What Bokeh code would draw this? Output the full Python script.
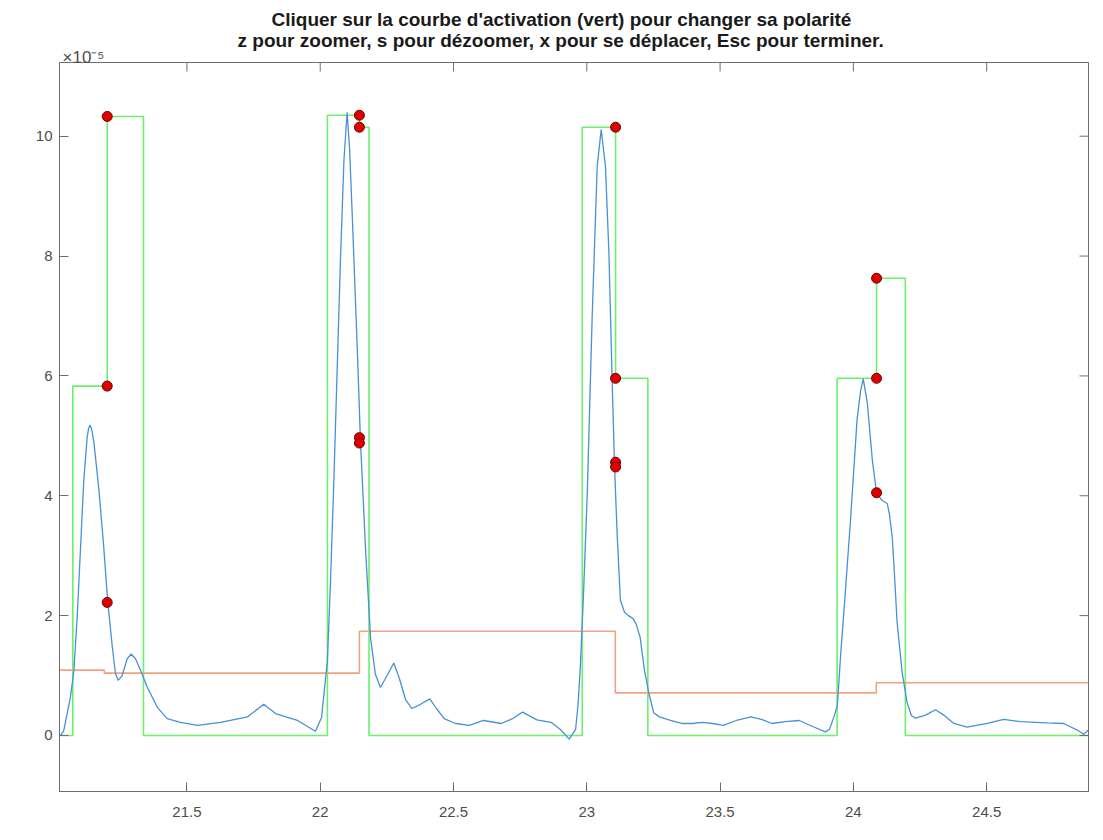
import math
from bokeh.plotting import figure
from bokeh.models import Range1d, FixedTicker, Title
from bokeh.embed import file_html
from bokeh.resources import INLINE

# ---------------- data ----------------
title_line1 = "Cliquer sur la courbe d'activation (vert) pour changer sa polarité"
title_line2 = "z pour zoomer, s pour dézoomer, x pour se déplacer, Esc pour terminer."
exponent_label = "×10⁻⁵"

x_ticks = [21.5, 22, 22.5, 23, 23.5, 24, 24.5]
x_tick_labels = ["21.5", "22", "22.5", "23", "23.5", "24", "24.5"]
y_ticks = [0, 2, 4, 6, 8, 10]
y_tick_labels = ["0", "2", "4", "6", "8", "10"]

x_start, x_end = 21.022, 24.882
y_start, y_end = -0.935, 11.23

# blue signal (values in units of 1e-5)
signal_t = [21.026, 21.038, 21.063, 21.076, 21.089, 21.101, 21.113, 21.126, 21.131, 21.136,
            21.142, 21.151, 21.170, 21.188, 21.203, 21.220, 21.232, 21.242, 21.257, 21.276,
            21.291, 21.307, 21.326, 21.351, 21.389, 21.426, 21.476, 21.540, 21.626, 21.727,
            21.788, 21.835, 21.915, 21.982, 22.005, 22.027, 22.038, 22.051, 22.076, 22.089,
            22.101, 22.110, 22.120, 22.139, 22.151, 22.170, 22.189, 22.207, 22.226, 22.251,
            22.276, 22.297, 22.320, 22.344, 22.376, 22.411, 22.436, 22.465, 22.507, 22.559,
            22.612, 22.679, 22.721, 22.759, 22.813, 22.866, 22.901, 22.934, 22.958, 22.967,
            22.976, 22.988, 23.002, 23.020, 23.039, 23.054, 23.070, 23.083, 23.095, 23.104,
            23.114, 23.126, 23.141, 23.156, 23.174, 23.186, 23.200, 23.216, 23.233, 23.251,
            23.272, 23.314, 23.356, 23.396, 23.434, 23.471, 23.512, 23.561, 23.616, 23.655,
            23.694, 23.745, 23.797, 23.847, 23.895, 23.910, 23.927, 23.940, 23.952, 23.970,
            23.989, 24.014, 24.027, 24.037, 24.052, 24.071, 24.087, 24.108, 24.127, 24.135,
            24.146, 24.154, 24.164, 24.183, 24.202, 24.218, 24.233, 24.271, 24.308, 24.339,
            24.377, 24.427, 24.502, 24.564, 24.627, 24.727, 24.789, 24.840, 24.864, 24.881]
signal_v = [0.00, 0.08, 0.64, 1.08, 2.03, 3.14, 4.26, 4.98, 5.12, 5.18,
            5.12, 4.90, 4.09, 3.14, 2.23, 1.48, 1.03, 0.92, 1.00, 1.28,
            1.36, 1.28, 1.09, 0.81, 0.47, 0.28, 0.22, 0.17, 0.22, 0.31,
            0.52, 0.36, 0.25, 0.07, 0.30, 1.25, 2.50, 4.23, 7.95, 9.60,
            10.40, 9.80, 8.70, 6.46, 4.91, 3.11, 1.62, 1.02, 0.80, 1.00,
            1.21, 0.95, 0.60, 0.45, 0.52, 0.61, 0.45, 0.28, 0.20, 0.17,
            0.25, 0.20, 0.28, 0.39, 0.26, 0.22, 0.10, -0.06, 0.10, 0.50,
            1.17, 2.40, 4.07, 6.96, 9.50, 10.11, 9.50, 8.05, 5.95, 4.50,
            3.34, 2.26, 2.06, 2.00, 1.95, 1.85, 1.64, 1.10, 0.70, 0.38,
            0.31, 0.25, 0.20, 0.20, 0.22, 0.20, 0.17, 0.25, 0.31, 0.27,
            0.20, 0.23, 0.25, 0.15, 0.06, 0.10, 0.31, 0.50, 1.33, 2.40,
            3.58, 5.28, 5.75, 5.95, 5.56, 4.60, 4.05, 3.92, 3.87, 3.70,
            3.30, 2.70, 1.89, 1.05, 0.54, 0.33, 0.29, 0.34, 0.43, 0.34,
            0.20, 0.14, 0.20, 0.27, 0.23, 0.21, 0.20, 0.09, 0.02, 0.09]

# green activation curve (step, value held after each edge)
activation_t = [21.022, 21.072, 21.201, 21.337, 22.027, 22.147, 22.183, 22.983,
                23.108, 23.229, 23.939, 24.087, 24.195, 24.882]
activation_v = [0, 5.83, 10.33, 0, 10.35, 10.15, 0, 10.15,
                5.96, 0, 5.96, 7.63, 0, 0]

# orange threshold (step)
threshold_t = [21.022, 21.190, 22.147, 23.107, 24.086, 24.882]
threshold_v = [1.09, 1.04, 1.74, 0.71, 0.88, 0.88]

# red markers
marker_t = [21.201, 21.201, 21.201, 22.147, 22.147, 22.147, 22.147,
            23.108, 23.108, 23.108, 23.108, 24.087, 24.087, 24.087]
marker_v = [10.33, 5.83, 2.22, 10.35, 10.15, 4.97, 4.88,
            10.15, 5.96, 4.56, 4.48, 7.63, 5.96, 4.05]

# ---------------- figure ----------------
AX = "#6e6e6e"
LBL = "#4d4d4d"
FONT = "Liberation Sans"
TICK = 9

p = figure(width=1095, height=832, output_backend="svg", toolbar_location=None,
           x_range=Range1d(x_start, x_end), y_range=Range1d(y_start, y_end),
           min_border_left=59, min_border_right=7, min_border_top=62, min_border_bottom=41,
           background_fill_color="white", border_fill_color="white")
p.outline_line_color = AX
p.outline_line_width = 1
p.xgrid.visible = False
p.ygrid.visible = False

for ax in (p.xaxis[0], p.yaxis[0]):
    ax.axis_line_color = AX
    ax.major_tick_line_color = AX
    ax.major_tick_in = TICK
    ax.major_tick_out = 0
    ax.minor_tick_line_color = None
    ax.major_label_text_font = FONT
    ax.major_label_text_color = LBL
    ax.major_label_text_font_size = "15px"

p.xaxis.ticker = FixedTicker(ticks=x_ticks)
p.xaxis.major_label_overrides = {t: s for t, s in zip(x_ticks, x_tick_labels)}
p.yaxis.ticker = FixedTicker(ticks=y_ticks)
p.yaxis.major_label_overrides = {t: s for t, s in zip(y_ticks, y_tick_labels)}
p.xaxis.major_label_standoff = 15
p.yaxis.major_label_standoff = 7

# titles: exponent label (closest to frame), then the two title lines
p.title = None
t_exp = Title(text=exponent_label, align="left", offset=3, text_font=FONT,
              text_font_size="17px", text_font_style="normal", text_color=LBL, standoff=-8)
p.add_layout(t_exp, "above")
t_line2 = Title(text=title_line2, align="left", offset=178, text_font=FONT,
                text_font_size="19px", text_font_style="bold", text_color="#1a1a1a",
                standoff=-2)
p.add_layout(t_line2, "above")
t_line1 = Title(text=title_line1, align="left", offset=212, text_font=FONT,
                text_font_size="19px", text_font_style="bold", text_color="#1a1a1a",
                standoff=-2)
p.add_layout(t_line1, "above")

# curves
p.step(activation_t, activation_v, mode="after", line_color="#6cf06c", line_width=1.6)
p.step(threshold_t, threshold_v, mode="after", line_color="#f2a283", line_width=1.6)
p.line(signal_t, signal_v, line_color="#4a90d4", line_width=1.3)
p.scatter(marker_t, marker_v, size=10, fill_color="#e00000", line_color="#6a0000", line_width=1)

# inward ticks on the top and right edges of the box
p.scatter(x_ticks, [y_end] * len(x_ticks), marker="dash", size=2 * TICK,
          angle=math.pi / 2, line_color=AX, line_width=1)
p.scatter([x_end] * len(y_ticks), y_ticks, marker="dash", size=2 * TICK,
          line_color=AX, line_width=1)

open("out.html", "w").write(file_html(p, INLINE))
